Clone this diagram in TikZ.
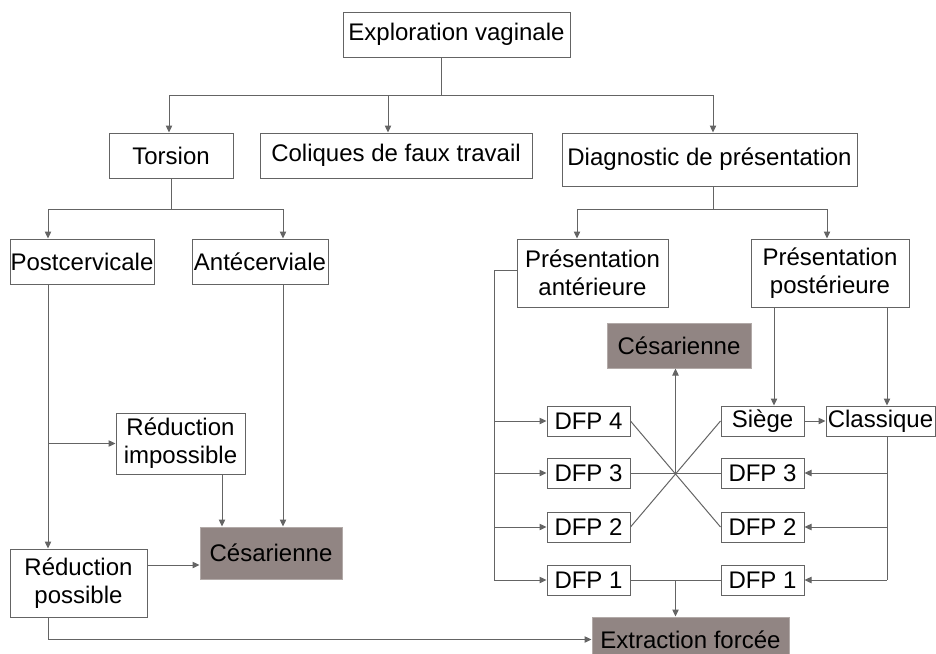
\documentclass[tikz,border=0pt]{standalone}
\usepackage{fontspec}
\setmainfont{Liberation Sans}
\usepackage{tikz}
\usetikzlibrary{arrows.meta,positioning,calc}
\definecolor{linegray}{RGB}{100,100,100}
\definecolor{outfill}{RGB}{145,133,131}

\begin{document}
\begin{tikzpicture}[x=0.5pt, y=-0.5pt,
    choice/.style={rectangle, draw=linegray, fill=white, line width=0.5pt,
        inner sep=0pt, align=center, font=\fontsize{12}{14}\selectfont},
    outcome/.style={choice, draw=outfill!70, fill=outfill},
    link/.style={linegray, line width=0.5pt},
    arr/.style={-{Triangle[length=3.5pt, width=3.2pt]}, linegray, line width=0.5pt}
]
    \useasboundingbox (0,0) rectangle (936,653);
    % top levels
    \node[choice, minimum width=113.5pt, minimum height=22.5pt] (expl) at (456.5,34.5) {Exploration vaginale};
    \node[choice, minimum width=62pt, minimum height=22.5pt] (tors) at (171,155.5) {Torsion};
    \node[choice, minimum width=136pt, minimum height=22.5pt] (coliq) at (396,155.5) {Coliques de faux travail};
    \node[choice, minimum width=147.5pt, minimum height=26.5pt] (diag) at (709.5,159.5) {Diagnostic de présentation};
    \node[choice, minimum width=72pt, minimum height=22.5pt] (postc) at (82,261.5) {Postcervicale};
    \node[choice, minimum width=68pt, minimum height=22.5pt] (antec) at (260,261.5) {Antécerviale};
    \node[choice, minimum width=75.5pt, minimum height=34pt] (pant) at (592.5,273) {Présentation\\antérieure};
    \node[choice, minimum width=79pt, minimum height=34pt] (ppost) at (830,273) {Présentation\\postérieure};
    % torsion side
    \node[choice, minimum width=64.5pt, minimum height=30.5pt] (redimp) at (180.5,443.5) {Réduction\\impossible};
    \node[outcome, minimum width=71pt, minimum height=26pt] (cesL) at (271,553) {Césarienne};
    \node[choice, minimum width=68.5pt, minimum height=34pt] (redpos) at (78.5,583) {Réduction\\possible};
    % presentation side
    \node[outcome, minimum width=72pt, minimum height=22.5pt] (cesR) at (679,345.5) {Césarienne};
    \foreach \n/\y in {4/421, 3/473, 2/527, 1/580}
        \node[choice, minimum width=41.5pt, minimum height=15pt] (dl\n) at (588.5,\y) {DFP \n};
    \foreach \n/\y in {3/473, 2/527, 1/580}
        \node[choice, minimum width=41.5pt, minimum height=15pt] (dr\n) at (762.5,\y) {DFP \n};
    \node[choice, minimum width=41.5pt, minimum height=15pt] (siege) at (762.5,421) {Siège};
    \node[choice, minimum width=54.5pt, minimum height=15pt] (classq) at (880.5,421) {Classique};
    \node[outcome, minimum width=98.5pt, minimum height=22.5pt] (extr) at (690.5,639.5) {Extraction forcée};

    % junctions
    \coordinate (j1) at (441,95);
    \coordinate (j2) at (171,209);
    \coordinate (j3) at (713,209);
    \coordinate (cpost) at (48,0);
    \coordinate (cante) at (283,0);
    \coordinate (rail) at (494,270);
    \coordinate (cross) at ($(dl3.east)!0.5!(dr3.west)$);
    \coordinate (bot) at ($(dl1.east)!0.5!(dr1.west)$);

    \draw[link] (j1 |- expl.south) -- (j1);
    \draw[arr] (j1) -| ($(tors.north)+(-2,0)$);
    \draw[arr] (j1 -| coliq.north) ++(-8,0) -- ($(coliq.north)+(-8,0)$);
    \draw[arr] (j1) -| (j3 |- diag.north);

    \draw[link] (tors.south) -- (j2);
    \draw[arr] (j2) -| (cpost |- postc.north);
    \draw[arr] (j2) -| (cante |- antec.north);

    \draw[link] (j3 |- diag.south) -- (j3);
    \draw[arr] (j3) -| ($(pant.north)+(-15.5,0)$);
    \draw[arr] (j3) -| ($(ppost.north)+(-3,0)$);

    % left branch
    \draw[arr] (cpost |- postc.south) -- (cpost |- redpos.north);
    \draw[arr] (cpost |- redimp.west) -- (redimp.west);
    \draw[arr] ($(redimp.south)+(41.5,0)$) -- ($(cesL.north)+(-49,0)$);
    \draw[arr] (cante |- antec.south) -- (cante |- cesL.north);
    \draw[arr] ($(redpos.east)+(0,-18)$) -- ($(cesL.west)+(0,12)$);
    \draw[arr] (cpost |- redpos.south) |- (extr.west);

    % anterior presentation
    \draw[link] (pant.west |- rail) -- (rail) -- (rail |- dl1);
    \foreach \n in {4,3,2,1}
        \draw[arr] (rail |- dl\n) -- (dl\n.west);
    \draw[link] (dl4.east) -- (dr2.west);
    \draw[link] (siege.west) -- (dl2.east);
    \draw[link] (dl3.east) -- (dr3.west);
    \draw[arr] (cross) -- (cross |- cesR.south);
    \draw[link] (dl1.east) -- (dr1.west);
    \draw[arr] (bot) -- (bot |- extr.north);

    % posterior presentation
    \draw[arr] ($(ppost.south)+(-56,0)$) -- ($(siege.north)+(11.5,0)$);
    \draw[arr] ($(ppost.south)+(57,0)$) -- ($(classq.north)+(6.5,0)$);
    \draw[arr] (siege.east) -- (classq.west);
    \draw[link] ($(classq.south)+(6.5,0)$) -- ($(classq.south |- dr1)+(6.5,0)$);
    \foreach \n in {3,2,1}
        \draw[arr] ($(classq.south |- dr\n)+(6.5,0)$) -- (dr\n.east);
\end{tikzpicture}
\end{document}
